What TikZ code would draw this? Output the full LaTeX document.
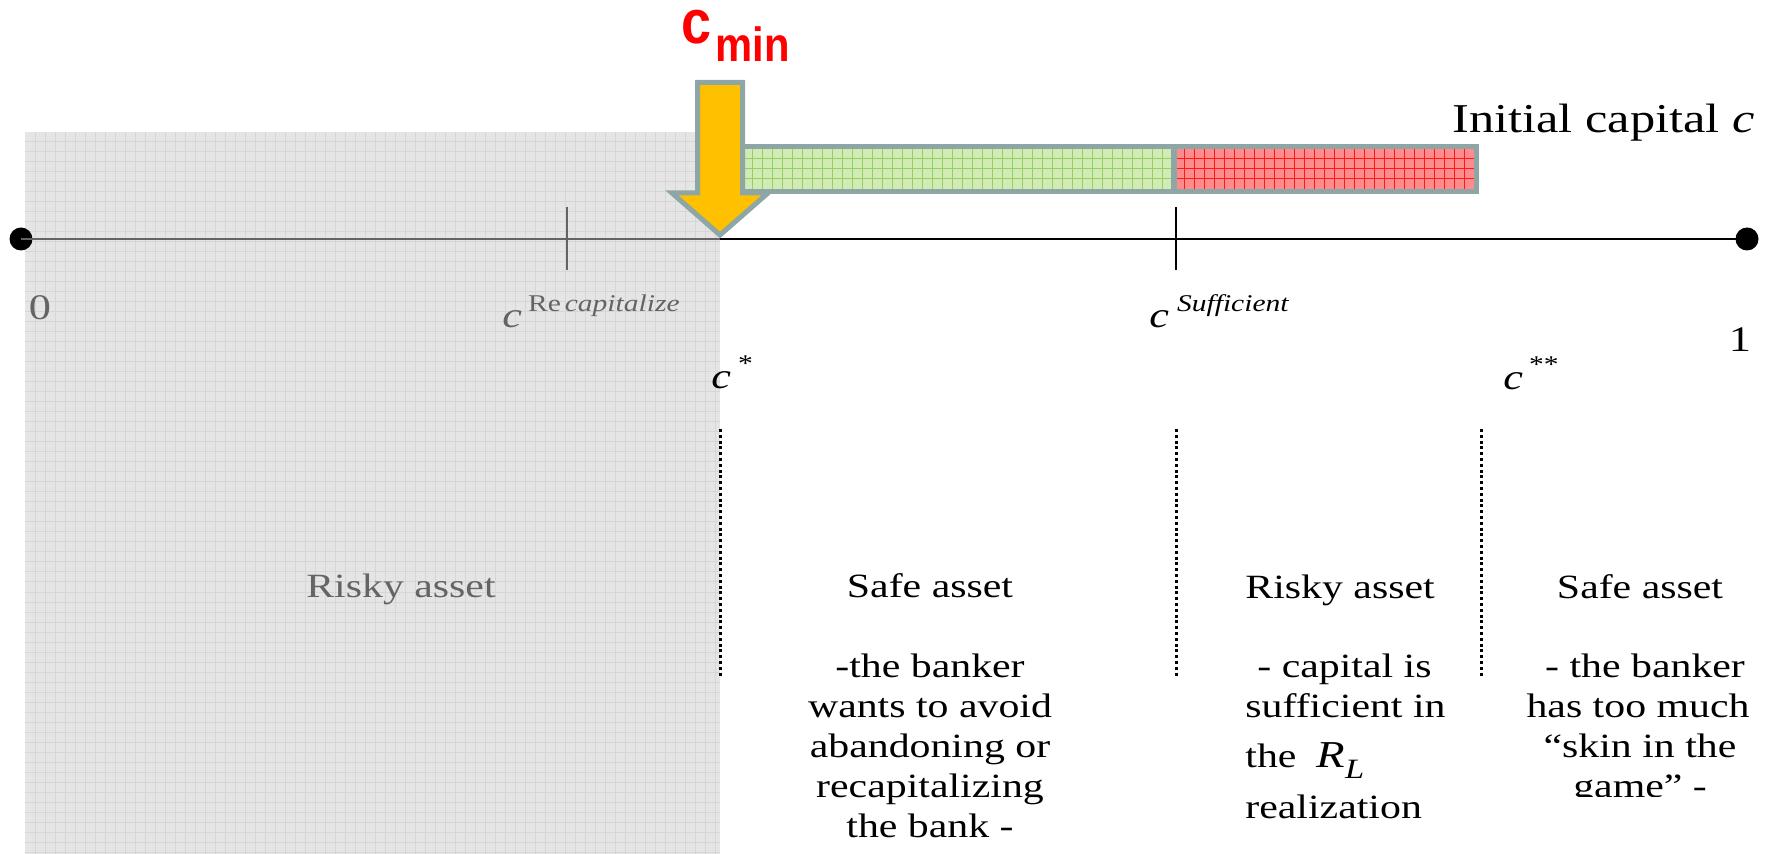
\documentclass[tikz,border=0pt]{standalone}
\usepackage{fontspec}
\setmainfont{Liberation Serif}
\newfontfamily\wideserif{Liberation Serif}[FakeStretch=1.23]
\newfontfamily\cminfont{Liberation Sans}[FakeStretch=0.87]

\definecolor{frame}{RGB}{143,166,166}
\definecolor{gold}{RGB}{255,192,0}
\definecolor{leaf}{RGB}{208,235,180}
\definecolor{leafline}{RGB}{150,205,100}
\definecolor{rose}{RGB}{255,140,140}
\definecolor{roseline}{RGB}{255,25,25}
\definecolor{zonegray}{RGB}{229,229,229}
\definecolor{zoneline}{RGB}{214,214,214}
\definecolor{dimink}{RGB}{100,100,100}

\tikzset{
  body/.style={font={\wideserif\fontsize{17pt}{20pt}\selectfont}, inner sep=0pt, anchor=base},
  bodyleft/.style={body, anchor=base west},
  lbl/.style={font={\wideserif\fontsize{18pt}{20pt}\selectfont}, inner sep=0pt, anchor=base west},
  axisline/.style={line width=1.2pt, black},
  tickmark/.style={line width=1.3pt, black},
  divider/.style={line width=1.5pt, black, dash pattern=on 1.5pt off 1.4pt},
  endpt/.style={circle, fill=black, minimum size=11.5pt, inner sep=0pt},
  zonegrid/.style={line width=0.5pt, zoneline},
  leafgrid/.style={line width=0.5pt, leafline},
  rosegrid/.style={line width=0.5pt, roseline},
  outline/.style={draw=frame, line width=2.5pt, line join=miter},
}

\newcommand{\supsize}{\fontsize{12pt}{12pt}\selectfont}

\begin{document}
\begin{tikzpicture}[x=0.5pt, y=-0.5pt]
\useasboundingbox (0,0) rectangle (1770,854);

% ---------------- shaded risky zone (gridded) ----------------
\fill[zonegray] (25,132) rectangle (720,854);
\draw[zonegrid]
  \foreach \gx in {35,45,...,715} { (\gx,132) -- (\gx,854) }
  \foreach \gy in {142,152,...,852} { (25,\gy) -- (720,\gy) };

% ---------------- axis with end points ----------------
\node[endpt] (zero) at (21,239) {};
\node[endpt] (one) at (1747,239) {};
\coordinate (cut) at (720,239);
\draw[axisline] (cut) -- (one.center);
\draw[axisline, dimink] (zero.center) -- (cut);

\coordinate (recapTop) at (567,207);
\coordinate (recapBot) at (567,270);
\coordinate (suffTop) at (1176,207);
\coordinate (suffBot) at (1176,270);
\draw[tickmark, dimink] (recapTop) -- (recapBot);
\draw[tickmark] (suffTop) -- (suffBot);

% ---------------- axis labels ----------------
\node[lbl, anchor=base, dimink] (lzero) at (40,320) {0};
\node[lbl, anchor=base] (lone) at (1740,352) {1};
\node[lbl, dimink] (lrecap) at (502,328)
  {\textit{c}\hspace{3pt}\raisebox{8pt}{\supsize Re\,\textit{capitalize}}};
\node[lbl] (lsuff) at (1149,328)
  {\textit{c}\hspace{4pt}\raisebox{8pt}{\supsize\textit{Sufficient}}};
\node[lbl] (lstar) at (711,389)
  {\textit{c}\hspace{3.5pt}\raisebox{8.5pt}{\supsize *}};
\node[lbl] (ldstar) at (1503,390)
  {\textit{c}\hspace{3pt}\raisebox{8.5pt}{\supsize **}};

% ---------------- region dividers ----------------
\coordinate (dA) at (720,429);  \coordinate (dAb) at (720,676);
\coordinate (dB) at (1176,429); \coordinate (dBb) at (1176,677);
\coordinate (dC) at (1481,429); \coordinate (dCb) at (1481,677);
\draw[divider] (dA) -- (dAb);
\draw[divider] (dB) -- (dBb);
\draw[divider] (dC) -- (dCb);

% ---------------- region descriptions ----------------
\node[body, dimink] (r0) at (401,597) {Risky asset};

\node[body] (s1) at (930,597) {Safe asset};
\node[body] (s1a) at (930,677) {-the banker};
\node[body] (s1b) at (930,717) {wants to avoid};
\node[body] (s1c) at (930,757) {abandoning or};
\node[body] (s1d) at (930,797) {recapitalizing};
\node[body] (s1e) at (930,837) {the bank -};

\node[bodyleft] (r2) at (1245,598) {Risky asset};
\node[bodyleft] (r2a) at (1257,677) {- capital is};
\node[bodyleft] (r2b) at (1245,717) {sufficient in};
\node[bodyleft] (r2c) at (1245,767)
  {the\hspace{10pt}{\fontsize{19pt}{20pt}\selectfont\textit{R}}\raisebox{-5.5pt}{\fontsize{14pt}{14pt}\selectfont\textit{L}}};
\node[bodyleft] (r2d) at (1245,818) {realization};

\node[body] (s3) at (1640,598) {Safe asset};
\node[body] (s3a) at (1645,677) {- the banker};
\node[body] (s3b) at (1638,717) {has too much};
\node[body] (s3c) at (1640,757) {“skin in the};
\begin{scope}
  \clip (1500,770) rectangle (1770,796);
  \node[body] (s3d) at (1640,797) {game” -};
\end{scope}

\node[font={\wideserif\fontsize{20.5pt}{22pt}\selectfont}, inner sep=0pt, anchor=base west]
  (title) at (1452,133) {Initial capital \textit{c}};

% ---------------- capital bar ----------------
\fill[leaf] (742.5,146.5) rectangle (1174,191.5);
\fill[rose] (1174,146.5) rectangle (1476.5,191.5);
\draw[leafgrid]
  \foreach \gx in {752,762,...,1170} { (\gx,149) -- (\gx,189) }
  \foreach \gy in {159,169,179} { (745,\gy) -- (1172,\gy) };
\draw[rosegrid]
  \foreach \gx in {1184,1194,...,1474} { (\gx,149) -- (\gx,189) }
  \foreach \gy in {159,169,179} { (1177,\gy) -- (1474,\gy) };
\draw[outline] (742.5,146.5) rectangle (1476.5,191.5);
\draw[draw=frame, line width=3pt] (1174,146.5) -- (1174,191.5);

% ---------------- c_min arrow ----------------
\draw[outline, fill=gold]
  (697.5,82.5) -- (742.5,82.5) -- (742.5,193) -- (768,193) -- (720,235)
  -- (672,193) -- (697.5,193) -- cycle;

\node[inner sep=0pt, anchor=base west, text=red] (cmin) at (681,44)
  {\cminfont\bfseries\fontsize{31pt}{31pt}\selectfont c\hspace{2pt}\raisebox{-9pt}{\fontsize{24pt}{24pt}\selectfont min}};
\end{tikzpicture}
\end{document}
